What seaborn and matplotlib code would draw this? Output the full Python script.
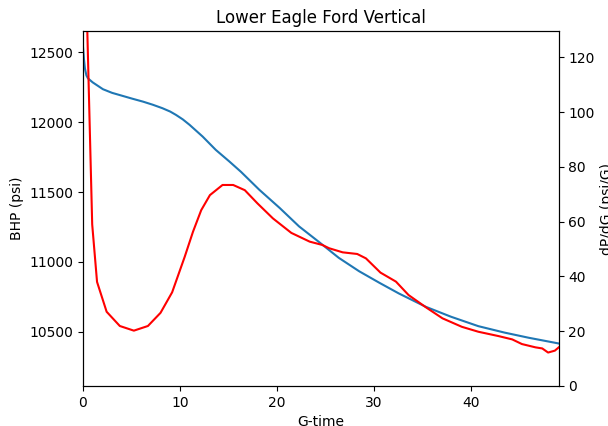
import numpy as np
import pandas as pd
import matplotlib
matplotlib.use("Agg")
import matplotlib.pyplot as plt
import seaborn as sns

# BHP (left axis)
g_bhp = [0.0, 0.1, 0.2, 0.35, 0.51, 1.0, 2.06, 3.0, 4.1, 5.1, 6.2, 7.2, 8.2, 9.0, 9.6, 10.3, 11.0,
         12.35, 13.7, 15.1, 16.3, 18.2, 20.3, 22.3, 24.4, 26.4, 28.5, 30.6, 32.6, 35.4, 38.0,
         40.8, 43.5, 46.0, 49.1]
bhp = [12540, 12450, 12385, 12335, 12314, 12285, 12236, 12210, 12188, 12168, 12147, 12125, 12100,
       12076, 12052, 12020, 11981, 11897, 11802, 11719, 11645, 11516, 11386, 11254, 11140, 11029,
       10933, 10850, 10774, 10678, 10607, 10540, 10494, 10457, 10416]

# dP/dG (right axis)
g_dpdg = [0.3, 0.95, 1.45, 2.44, 3.8, 5.25, 6.7, 8.0, 9.2, 10.5, 11.35, 12.2, 13.1, 14.4, 15.5,
          16.7, 18.0, 19.6, 21.5, 23.4, 24.7, 25.4, 26.8, 28.3, 29.2, 30.7, 32.3, 33.6, 35.4,
          37.1, 39.1, 40.8, 42.9, 44.3, 45.3, 46.7, 47.4, 48.0, 48.7, 49.1]
dpdg = [150, 59, 38, 27.1, 21.9, 20.2, 21.9, 26.7, 34.2, 47.2, 56.3, 64.2, 69.7, 73.4, 73.4,
        71.5, 66.7, 61.2, 55.9, 52.7, 51.5, 50.3, 48.8, 48.2, 46.6, 41.4, 38.1, 33.2, 28.7,
        24.7, 21.6, 19.8, 18.2, 17.0, 15.3, 14.1, 13.7, 12.2, 12.9, 14.1]

df_bhp = pd.DataFrame({"G-time": g_bhp, "BHP (psi)": bhp})
df_dpdg = pd.DataFrame({"G-time": g_dpdg, "dP/dG (psi/G)": dpdg})

fig = plt.figure(figsize=(6.08, 4.26), dpi=100)
ax = fig.add_axes([0.1365, 0.094, 0.7825, 0.833])
ax2 = ax.twinx()

sns.lineplot(data=df_bhp, x="G-time", y="BHP (psi)", ax=ax, color="#1f77b4", linewidth=1.5)
sns.lineplot(data=df_dpdg, x="G-time", y="dP/dG (psi/G)", ax=ax2, color="red", linewidth=1.5)

ax.set_xlim(0, 49.1)
ax.set_ylim(10112, 12652)
ax2.set_ylim(0, 129.6)
ax.set_xticks([0, 10, 20, 30, 40])
ax.set_yticks([10500, 11000, 11500, 12000, 12500])
ax2.set_yticks([0, 20, 40, 60, 80, 100, 120])

ax.set_title("Lower Eagle Ford Vertical")
ax.set_xlabel("G-time")
ax.set_ylabel("BHP (psi)")
ax2.set_ylabel("dP/dG (psi/G)")

plt.savefig("out.png", dpi=100)
